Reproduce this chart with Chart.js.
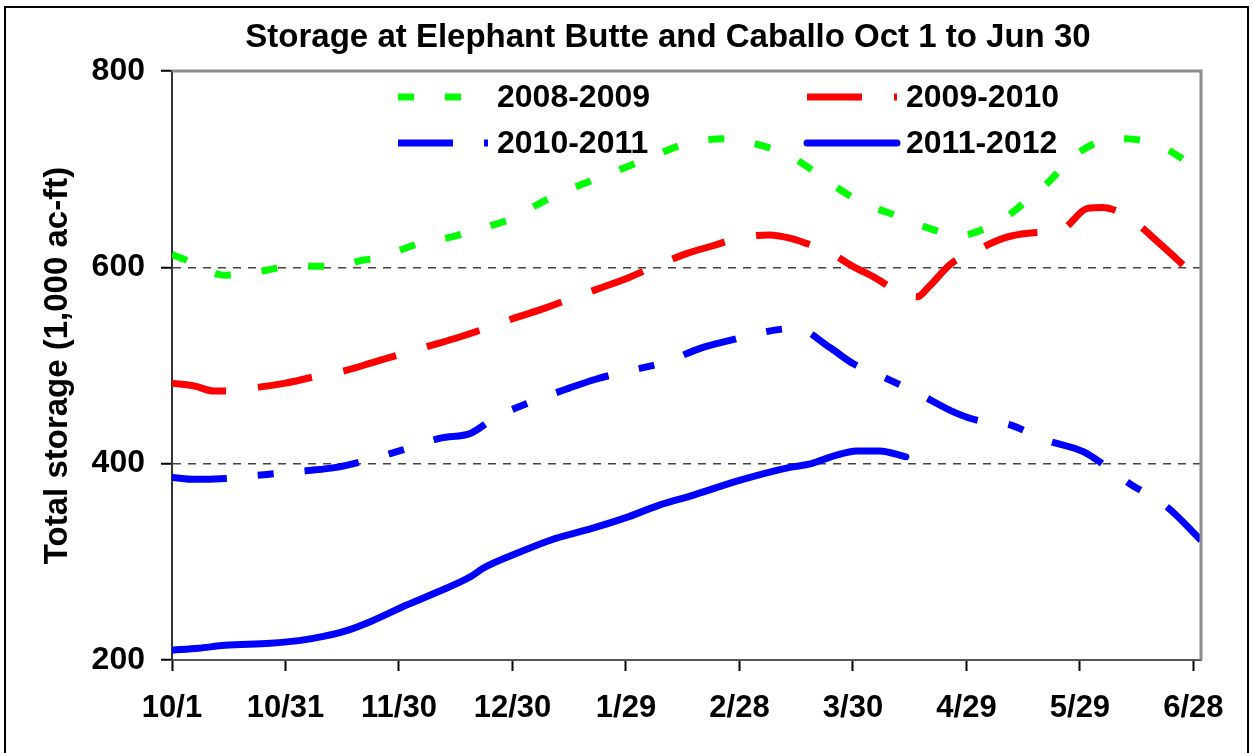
<!DOCTYPE html>
<html>
<head>
<meta charset="utf-8">
<script src="https://cdn.jsdelivr.net/npm/chart.js@4.4.1/dist/chart.umd.min.js"></script>
<style>
body{margin:0;background:#fff;}
#wrap{width:1253px;height:753px;}
</style>
</head>
<body>
<div id="wrap"><canvas id="storage" width="1253" height="753"></canvas></div>
<script>
// x = days since Oct 1, y = storage in 1,000 ac-ft
const xLabels=["10/1","10/31","11/30","12/30","1/29","2/28","3/30","4/29","5/29","6/28"];
const yTicks=[200,400,600,800];

const days0809=[0,4,12,14,25,29,38,43,50,55,62,66,75,79,88,91,100,112,124,136,146,155,163,170,175,183,192,200,208,214,220,226,232,238,245,251,258,264,272];
const vals0809=[613,607,593,592,597,600,601,601,607,610,620,625,632,637,647,652,671,690,708,726,731,725,714,697,683,665,652,640,632,638,650,668,688,712,728,731,728,718,697];

const days0910=[0,6,11,14,23,30,37,46,53,60,69,76,83,91,99,106,114,121,127,136,143,150,158,163,168,173,180,186,193,197,200,206,212,220,227,235,242,246,251,255,260,266,272];
const vals0910=[482,479,474,474,478,482,488,495,503,511,521,529,538,549,559,569,580,590,600,614,622,630,633,630,624,617,601,589,573,570,580,604,616,630,635,638,660,661,655,645,628,607,585];

const days1011=[0,6,14,25,36,43,50,61,71,79,85,95,105,112,119,130,140,148,155,165,174,180,187,197,207,213,221,231,241,247,253,263,272];
const vals1011=[386,384,385,389,393,396,402,414,426,431,446,463,477,486,493,503,518,526,533,538,518,502,490,472,452,444,440,424,412,397,380,356,322];

const days1112=[0,7,14,26,34,40,47,53,62,70,79,82,92,100,111,120,129,137,150,163,169,175,181,187,194];
const vals1112=[210,212,215,217,220,224,231,240,256,269,285,293,310,322,334,345,358,367,383,396,400,408,413,413,407];

const seriesNames=["2008-2009","2009-2010","2010-2011","2011-2012"];

const FONT='"Liberation Sans", Arial, sans-serif';
const pts=(d,v)=>d.map((x,i)=>({x:x,y:v[i]}));

// legend spots (line start) and frame drawing
const legendSpots=[[398,97],[807,97],[398,143],[807,143]];
const framePlugin={
  id:"frame",
  afterDraw(chart){
    const ctx=chart.ctx, a=chart.chartArea;
    ctx.save();
    // plot box top/right
    ctx.strokeStyle="#8c8c8c"; ctx.lineWidth=3;
    ctx.beginPath(); ctx.moveTo(a.left,a.top); ctx.lineTo(a.right,a.top); ctx.lineTo(a.right,a.bottom); ctx.stroke();
    // outer border
    ctx.strokeStyle="#000"; ctx.lineWidth=2;
    ctx.strokeRect(5,7,1243,760);
    // title
    ctx.fillStyle="#000"; ctx.font="bold 33px "+FONT;
    ctx.textAlign="center"; ctx.textBaseline="middle";
    ctx.fillText("Storage at Elephant Butte and Caballo Oct 1 to Jun 30",668,38);
    // legend
    chart.data.datasets.forEach((ds,i)=>{
      const [x,y]=legendSpots[i];
      ctx.strokeStyle=ds.borderColor; ctx.lineWidth=ds.borderWidth;
      ctx.setLineDash(ds.borderDash||[]); ctx.lineCap=ds.borderCapStyle||"butt";
      ctx.beginPath(); ctx.moveTo(x,y); ctx.lineTo(x+90,y); ctx.stroke();
      ctx.setLineDash([]);
      ctx.font="bold 32px "+FONT; ctx.textAlign="left";
      ctx.fillText(ds.label,x+99,y+1);
    });
    ctx.restore();
  }
};

new Chart(document.getElementById("storage"),{
  type:"line",
  data:{datasets:[
    {label:seriesNames[0],data:pts(days0809,vals0809),borderColor:"#00ff00",borderWidth:7,borderDash:[16,31]},
    {label:seriesNames[1],data:pts(days0910,vals0910),borderColor:"#ff0000",borderWidth:7,borderDash:[55,32]},
    {label:seriesNames[2],data:pts(days1011,vals1011),borderColor:"#0000ff",borderWidth:7,borderDash:[55,31,16,31]},
    {label:seriesNames[3],data:pts(days1112,vals1112),borderColor:"#0000ff",borderWidth:7,borderCapStyle:"round",borderJoinStyle:"round"}
  ]},
  options:{
    responsive:false,animation:false,
    layout:{padding:{top:71,right:52,bottom:0,left:0}},
    elements:{point:{radius:0},line:{cubicInterpolationMode:"monotone",fill:false}},
    plugins:{legend:{display:false},tooltip:{enabled:false},title:{display:false}},
    scales:{
      x:{type:"linear",min:0,max:272,
        afterFit:s=>{s.height=93;},
        ticks:{stepSize:30,includeBounds:false,autoSkip:false,maxRotation:0,padding:19,color:"#000",
          font:{family:FONT,size:31,weight:"bold"},
          callback:v=>xLabels[Math.round(v/30)]},
        grid:{drawOnChartArea:false,drawTicks:true,tickLength:11,tickColor:"#000",tickWidth:2},
        border:{display:true,color:"#555",width:2}},
      y:{min:200,max:800,
        afterFit:s=>{s.width=172;},
        afterBuildTicks:s=>{s.ticks=yTicks.map(v=>({value:v}));},
        ticks:{padding:16,color:"#000",font:{family:FONT,size:32,weight:"bold"}},
        grid:{color:c=>(c.tick&&(c.tick.value===400||c.tick.value===600))?"#444":"rgba(0,0,0,0)",
          lineWidth:1.5,drawTicks:true,tickLength:11,tickColor:"#000",tickWidth:2},
        border:{display:true,color:"#333",width:2,dash:[8,7]},
        title:{display:true,text:"Total storage (1,000 ac-ft)",color:"#000",
          font:{family:FONT,size:33,weight:"bold"},padding:{top:38,bottom:0}}}
    }
  },
  plugins:[framePlugin]
});
</script>
</body>
</html>
